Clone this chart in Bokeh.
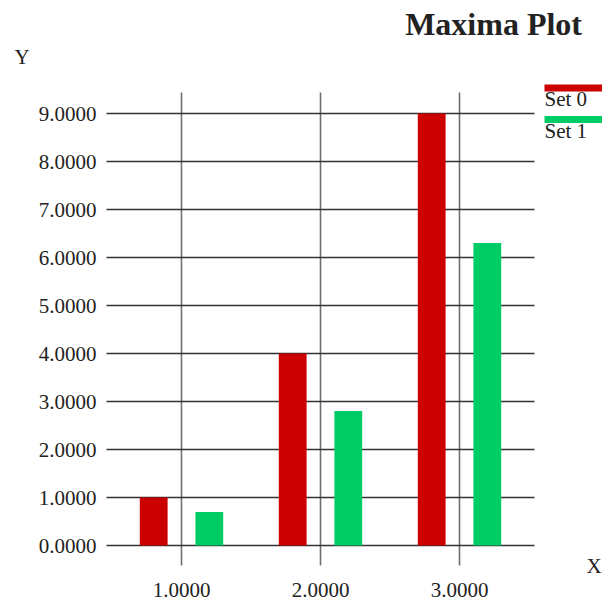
from bokeh.plotting import figure
from bokeh.models import (Range1d, FixedTicker, PrintfTickFormatter, Label,
                          BoxAnnotation, ColumnDataSource, LinearAxis, Grid)
from bokeh.transform import dodge
from bokeh.embed import file_html
from bokeh.resources import INLINE

# ---- data ----
x_values = [1, 2, 3]
set0 = [1.0, 4.0, 9.0]
set1 = [0.7, 2.8, 6.3]
series_names = ["Set 0", "Set 1"]
series_colors = ["#cc0000", "#00cc66"]
x_ticks = [1, 2, 3]
y_ticks = [0, 1, 2, 3, 4, 5, 6, 7, 8, 9]
title_text = "Maxima Plot"
x_label = "X"
y_label = "Y"

FONT = "Liberation Serif"
TXT = "#222222"

# ---- layout (pixels) ----
W, H = 602, 601
# pixel positions of x=1, x=2 and y=0, y=9 in the picture
PX1, PX2 = 181.0, 320.0
PY0, PY9 = 545.0, 113.0
SX = PX2 - PX1
SY = (PY0 - PY9) / 9.0


def dx(px):
    return 1 + (px - PX1) / SX


def dy(py):
    return (PY0 - py) / SY


def base(py, size):
    # label anchor for a wanted text baseline at pixel row py
    return dy(py - 0.33 * size)


# plot-area box (pixels)
AL, AR, AT, AB = 106, 534, 92, 565

p = figure(width=W, height=H, output_backend="svg", toolbar_location=None,
           x_range=Range1d(dx(0), dx(W)), y_range=Range1d(dy(H), dy(0)),
           x_axis_location=None, y_axis_location=None, title=None,
           min_border=0, min_border_left=0, min_border_right=0,
           min_border_top=0, min_border_bottom=0,
           background_fill_color="white", border_fill_color="white")
p.outline_line_color = None
p.xgrid.visible = False
p.ygrid.visible = False

# axes fixed at the edges of the plot area
yax = LinearAxis(fixed_location=dx(AL), ticker=FixedTicker(ticks=y_ticks),
                 formatter=PrintfTickFormatter(format="%.4f"))
xax = LinearAxis(fixed_location=dy(AB), ticker=FixedTicker(ticks=x_ticks),
                 formatter=PrintfTickFormatter(format="%.4f"))
for ax in (xax, yax):
    ax.axis_line_color = None
    ax.major_tick_line_color = None
    ax.minor_tick_line_color = None
    ax.major_tick_in = 0
    ax.major_tick_out = 0
    ax.minor_tick_in = 0
    ax.minor_tick_out = 0
    ax.major_label_text_font = FONT
    ax.major_label_text_font_size = "21px"
    ax.major_label_text_color = TXT
yax.major_label_standoff = 10
xax.major_label_standoff = 17
p.add_layout(yax, "left")
p.add_layout(xax, "below")

# grid lines limited to the plot area
has_cb = "cross_bounds" in Grid.properties()
if has_cb:
    xg = Grid(dimension=0, ticker=FixedTicker(ticks=x_ticks),
              cross_bounds=(dy(AB), dy(AT)),
              grid_line_color="#6f6f6f", grid_line_width=1.6)
    yg = Grid(dimension=1, ticker=FixedTicker(ticks=y_ticks),
              cross_bounds=(dx(AL), dx(AR)),
              grid_line_color="#333333", grid_line_width=1.3)
    p.add_layout(xg)
    p.add_layout(yg)
else:
    p.segment(x0=x_ticks, x1=x_ticks, y0=dy(AB), y1=dy(AT),
              line_color="#6f6f6f", line_width=1.6)
    p.segment(x0=dx(AL), x1=dx(AR), y0=y_ticks, y1=y_ticks,
              line_color="#333333", line_width=1.3)

src = ColumnDataSource(dict(x=x_values, s0=set0, s1=set1))
p.vbar(x=dodge("x", -0.2, range=p.x_range), top="s0", bottom=0, width=0.2,
       source=src, fill_color=series_colors[0], line_color=None)
p.vbar(x=dodge("x", 0.2, range=p.x_range), top="s1", bottom=0, width=0.2,
       source=src, fill_color=series_colors[1], line_color=None)

# title
p.add_layout(Label(x=dx(581.5), y=base(34, 32), text=title_text, text_font=FONT,
                   text_font_style="bold", text_font_size="32px",
                   text_color=TXT, text_align="right",
                   text_baseline="alphabetic"))

# axis names
p.add_layout(Label(x=dx(14), y=base(63, 21), text=y_label, text_font=FONT,
                   text_font_size="21px", text_color=TXT,
                   text_baseline="alphabetic"))
p.add_layout(Label(x=dx(586), y=base(572, 21), text=x_label, text_font=FONT,
                   text_font_size="21px", text_color=TXT,
                   text_baseline="alphabetic"))

# legend
for i, (name, col) in enumerate(zip(series_names, series_colors)):
    top = 84 + 31.5 * i
    p.add_layout(BoxAnnotation(left=dx(544), right=dx(W + 5), top=dy(top),
                               bottom=dy(top + 7), fill_color=col,
                               fill_alpha=1, line_color=None,
                               line_alpha=0))
    p.add_layout(Label(x=dx(544), y=base(105.5 + 31.5 * i, 21), text=name,
                       text_font=FONT, text_font_size="21px", text_color=TXT,
                       text_baseline="alphabetic"))

open("out.html", "w").write(file_html(p, INLINE))
